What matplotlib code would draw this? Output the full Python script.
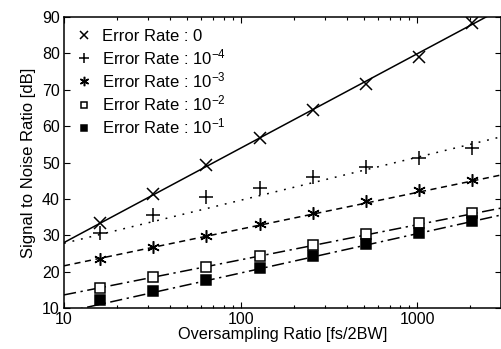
import matplotlib
matplotlib.use('Agg')
import numpy as np
import matplotlib.pyplot as plt
from matplotlib.ticker import LogLocator, NullFormatter, FixedLocator

plt.rcParams['font.family'] = ['Liberation Sans', 'DejaVu Sans']

# oversampling ratios of the simulated points
osr = [16, 32, 64, 128, 256, 512, 1024, 2048]

# SNR [dB] per error rate
snr_0    = [33.3, 41.4, 49.3, 56.7, 64.5, 71.6, 79.1, 88.4]
snr_1e4  = [30.6, 35.6, 40.5, 42.9, 46.1, 48.9, 51.2, 54.1]
snr_1e3  = [23.4, 26.7, 29.8, 33.1, 36.0, 39.3, 42.5, 45.1]
snr_1e2  = [15.5, 18.5, 21.2, 24.3, 27.2, 30.3, 33.3, 36.1]
snr_1e1  = [12.1, 14.8, 17.7, 21.0, 24.3, 27.6, 30.7, 33.8]

# straight trend lines (end points read at x = 10 and x = 3000)
line_x   = [10, 3000]
line_0   = [28.0, 92.3]
line_1e4 = [27.8, 57.1]
line_1e3 = [21.6, 46.6]
line_1e2 = [13.6, 37.5]
line_1e1 = [8.8, 35.6]

labels = ['Error Rate : 0',
          'Error Rate : $\\mathregular{10^{-4}}$',
          'Error Rate : $\\mathregular{10^{-3}}$',
          'Error Rate : $\\mathregular{10^{-2}}$',
          'Error Rate : $\\mathregular{10^{-1}}$']

series = [
    (snr_0,   line_0,   dict(marker='x', ms=8.5, mew=1.1, mfc='none'), '-'),
    (snr_1e4, line_1e4, dict(marker='+', ms=10, mew=1.1, mfc='none'), (0, (1.2, 4.5))),
    (snr_1e3, line_1e3, dict(marker=(6, 2, 0), ms=9, mew=1.1, mfc='none'), (0, (4, 3))),
    (snr_1e2, line_1e2, dict(marker='s', ms=6.5, mew=1.1, mfc='white'), (0, (8, 3, 1.5, 3))),
    (snr_1e1, line_1e1, dict(marker='s', ms=6.5, mew=1.1, mfc='black'), (0, (8, 3, 1.5, 3))),
]

fig = plt.figure(figsize=(5.02, 3.49), dpi=100)
ax = fig.add_axes([0.1275, 0.1175, 0.8715, 0.8335])

for snr, ln, mk, ls in series:
    ax.plot(line_x, ln, color='black', lw=1.1, linestyle=ls, zorder=2)
for (snr, ln, mk, ls), lab in zip(series, labels):
    ax.plot(osr, snr, linestyle='none', color='black', mec='black',
            label=lab, zorder=3, **mk)

ax.set_xscale('log')
ax.set_xlim(10, 3000)
ax.set_ylim(10, 90)
ax.set_yticks(range(10, 91, 10))
ax.xaxis.set_major_locator(FixedLocator([10, 100, 1000]))
ax.set_xticklabels(['10', '100', '1000'])
ax.xaxis.set_minor_locator(LogLocator(base=10, subs=np.arange(2, 10)))
ax.xaxis.set_minor_formatter(NullFormatter())

ax.tick_params(which='both', direction='in', top=True, right=True,
               labelsize=11.5, width=0.8)
ax.tick_params(which='major', length=4)
ax.tick_params(axis='x', which='major', pad=3)
ax.tick_params(axis='y', which='major', pad=3)
ax.tick_params(which='minor', length=2)
for s in ax.spines.values():
    s.set_linewidth(1.1)

ax.set_xlabel('Oversampling Ratio [fs/2BW]', fontsize=11.7, labelpad=0)
ax.set_ylabel('Signal to Noise Ratio [dB]', fontsize=12, labelpad=4)

ax.legend(loc='upper left', frameon=False, fontsize=12, markerscale=0.75,
          handlelength=1.0, handletextpad=0.6, labelspacing=0.2,
          borderaxespad=0.3, borderpad=0.4)

fig.savefig('out.png', dpi=100)
